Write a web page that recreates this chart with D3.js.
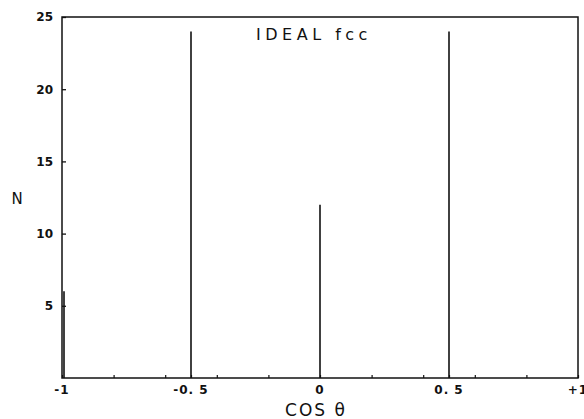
<!DOCTYPE html>
<html>
<head>
<meta charset="utf-8">
<script src="https://cdn.jsdelivr.net/npm/d3@7"></script>
<style>
  body { margin: 0; background: #fff; }
  svg { display: block; }
  text { fill: #111; }
</style>
</head>
<body>
<svg id="fig" width="584" height="419"></svg>
<script>
// angle distribution for the ideal fcc lattice
const cosValues = [-1, -0.5, 0, 0.5];
const counts = [6, 24, 12, 24];

const xTickValues = [-1, -0.5, 0, 0.5, 1];
const xTickLabels = ['-1', '-0. 5', '0', '0. 5', '+1'];
const xMinorTicks = [-0.8, -0.6, -0.4, -0.2, 0.2, 0.4, 0.6, 0.8];
const yTickValues = [5, 10, 15, 20, 25];

const width = 584, height = 419;
const margin = { top: 17, right: 6, bottom: 41, left: 62 };

const svg = d3.select('#fig');

const x = d3.scaleLinear().domain([-1, 1]).range([margin.left, width - margin.right]);
const y = d3.scaleLinear().domain([0, 25]).range([height - margin.bottom, margin.top]);

const data = cosValues.map((c, i) => ({ c: c, n: counts[i] }));

// frame
svg.append('rect')
    .attr('x', x(-1)).attr('y', y(25))
    .attr('width', x(1) - x(-1)).attr('height', y(0) - y(25))
    .attr('fill', 'none').attr('stroke', '#111').attr('stroke-width', 1.5);

// y ticks (inside)
const yAxis = d3.axisRight(y).tickValues(yTickValues).tickSize(4).tickFormat('');
svg.append('g').attr('transform', `translate(${x(-1)},0)`).call(yAxis)
    .call(g => g.select('.domain').remove())
    .selectAll('line').attr('stroke', '#111').attr('stroke-width', 1.3);

svg.append('g').selectAll('text').data(yTickValues).join('text')
    .attr('x', x(-1) - 9).attr('y', d => y(d))
    .attr('dy', '0.36em')
    .attr('text-anchor', 'end')
    .style('font-family', 'DejaVu Sans')
    .style('font-size', '12px')
    .style('font-weight', 'bold')
    .text(d => d);

// x ticks
const xAxis = d3.axisTop(x).tickValues(xTickValues.concat(xMinorTicks)).tickSize(3).tickFormat('');
svg.append('g').attr('transform', `translate(0,${y(0)})`).call(xAxis)
    .call(g => g.select('.domain').remove())
    .selectAll('line').attr('stroke', '#111').attr('stroke-width', 1.2);

svg.append('g').selectAll('text').data(xTickValues).join('text')
    .attr('x', d => x(d)).attr('y', y(0) + 16)
    .attr('text-anchor', 'middle')
    .style('font-family', 'DejaVu Sans')
    .style('font-size', '12px')
    .style('font-weight', 'bold')
    .style('letter-spacing', '1px')
    .text((d, i) => xTickLabels[i]);

// bars (vertical lines)
svg.append('g').selectAll('line').data(data).join('line')
    .attr('x1', d => x(d.c) + (d.c === -1 ? 2 : 0))
    .attr('x2', d => x(d.c) + (d.c === -1 ? 2 : 0))
    .attr('y1', y(0))
    .attr('y2', d => y(d.n))
    .attr('stroke', '#111')
    .attr('stroke-width', 1.6);

// title
svg.append('text')
    .attr('x', 314).attr('y', 40)
    .attr('text-anchor', 'middle')
    .style('font-family', 'DejaVu Sans')
    .style('font-size', '16px')
    .style('letter-spacing', '4.5px')
    .text('IDEAL fcc');

// axis labels
svg.append('text')
    .attr('x', 17).attr('y', 204)
    .attr('text-anchor', 'middle')
    .style('font-family', 'DejaVu Sans')
    .style('font-size', '15px')
    .text('N');

svg.append('text')
    .attr('x', 316).attr('y', 416)
    .attr('text-anchor', 'middle')
    .style('font-family', 'DejaVu Sans')
    .style('font-size', '17px')
    .style('letter-spacing', '2px')
    .text('COS \u03B8');
</script>
</body>
</html>
